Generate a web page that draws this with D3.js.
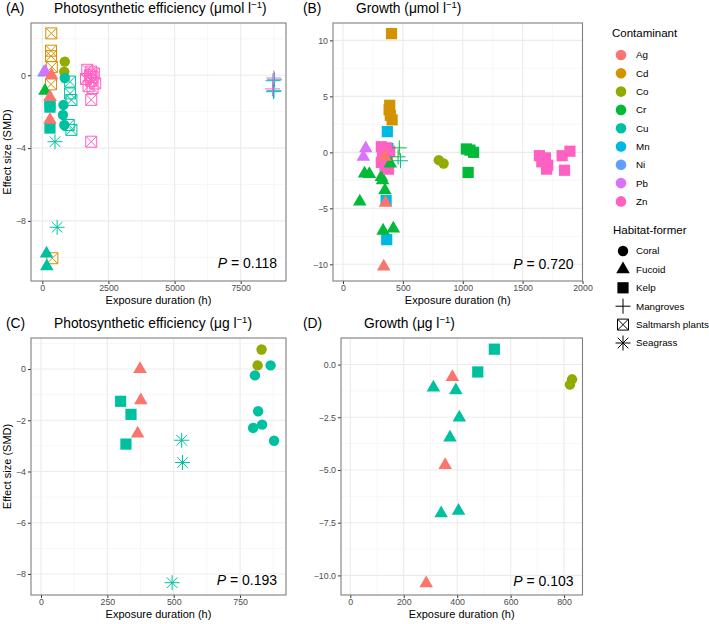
<!DOCTYPE html>
<html>
<head>
<meta charset="utf-8">
<script src="https://cdn.jsdelivr.net/npm/d3@7"></script>
<style>
  body { margin: 0; background: #fff; }
  text { font-family: "Liberation Sans", Arial, sans-serif; }
</style>
</head>
<body>
<div id="chart"></div>
<script>
// === effect size vs exposure duration, 4 panels ===

const contaminants = ["Ag", "Cd", "Co", "Cr", "Cu", "Mn", "Ni", "Pb", "Zn"];
const habitats = ["Coral", "Fucoid", "Kelp", "Mangroves", "Saltmarsh plants", "Seagrass"];

// [contaminant, habitat, exposure (h), effect size]
const photoMolar = [
  ["Cd", "Saltmarsh plants", 340, 2.3], ["Cd", "Saltmarsh plants", 330, 1.35], ["Cd", "Saltmarsh plants", 330, 1.05],
  ["Cd", "Saltmarsh plants", 360, 0.45], ["Cd", "Saltmarsh plants", 330, -0.5], ["Cd", "Saltmarsh plants", 380, -10.05],
  ["Ni", "Fucoid", 60, 0.15], ["Pb", "Fucoid", 110, 0.2],
  ["Cr", "Fucoid", 100, -0.85],
  ["Cu", "Kelp", 290, -1.6], ["Cu", "Kelp", 290, -1.75], ["Cu", "Kelp", 290, -2.9],
  ["Ag", "Fucoid", 350, 0.0], ["Ag", "Fucoid", 290, -1.2], ["Ag", "Fucoid", 290, -2.45],
  ["Cu", "Fucoid", 160, -9.8], ["Cu", "Fucoid", 170, -10.5],
  ["Co", "Coral", 850, 0.75], ["Co", "Coral", 830, 0.2],
  ["Cu", "Coral", 850, -0.15], ["Cu", "Coral", 800, -1.63], ["Cu", "Coral", 780, -2.18], ["Cu", "Coral", 830, -2.73],
  ["Cu", "Saltmarsh plants", 1050, -0.35], ["Cu", "Saltmarsh plants", 1050, -1.0], ["Cu", "Saltmarsh plants", 1100, -1.36],
  ["Cu", "Saltmarsh plants", 1000, -2.73], ["Cu", "Saltmarsh plants", 1100, -3.0],
  ["Zn", "Saltmarsh plants", 1700, 0.3], ["Zn", "Saltmarsh plants", 1850, 0.2], ["Zn", "Saltmarsh plants", 1950, 0.1],
  ["Zn", "Saltmarsh plants", 1800, 0.0], ["Zn", "Saltmarsh plants", 1900, -0.1], ["Zn", "Saltmarsh plants", 1650, -0.2],
  ["Zn", "Saltmarsh plants", 1850, -0.3], ["Zn", "Saltmarsh plants", 2000, -0.45], ["Zn", "Saltmarsh plants", 1750, -0.6],
  ["Zn", "Saltmarsh plants", 1900, -0.7], ["Zn", "Saltmarsh plants", 1850, -1.35], ["Zn", "Saltmarsh plants", 1850, -3.65],
  ["Cu", "Seagrass", 480, -3.65], ["Cu", "Seagrass", 560, -8.35],
  ["Cu", "Mangroves", 8720, -0.3], ["Mn", "Mangroves", 8780, -0.25], ["Zn", "Mangroves", 8750, -0.15],
  ["Cu", "Mangroves", 8740, -0.9], ["Mn", "Mangroves", 8760, -0.85], ["Zn", "Mangroves", 8700, -0.75]
];

const growthMolar = [
  ["Cd", "Kelp", 405, 10.6], ["Cd", "Kelp", 390, 4.2], ["Cd", "Kelp", 385, 3.8], ["Cd", "Kelp", 395, 3.3], ["Cd", "Kelp", 410, 2.9],
  ["Mn", "Kelp", 370, 1.85], ["Mn", "Kelp", 375, 0.35], ["Mn", "Kelp", 360, -4.3], ["Mn", "Kelp", 365, -7.8],
  ["Pb", "Fucoid", 190, 0.35], ["Pb", "Fucoid", 170, -0.4],
  ["Cr", "Fucoid", 180, -1.9], ["Cr", "Fucoid", 220, -1.95], ["Cr", "Fucoid", 140, -4.4],
  ["Cr", "Fucoid", 320, -2.2], ["Cr", "Fucoid", 330, -2.5], ["Cr", "Fucoid", 350, -3.4],
  ["Cr", "Fucoid", 335, -7.0], ["Cr", "Fucoid", 420, -6.8],
  ["Zn", "Kelp", 320, 0.5], ["Zn", "Kelp", 360, 0.4], ["Zn", "Kelp", 390, 0.1], ["Zn", "Kelp", 330, -0.2],
  ["Zn", "Kelp", 370, -0.5], ["Zn", "Kelp", 320, -0.9], ["Zn", "Kelp", 350, -1.2], ["Zn", "Kelp", 380, -1.5],
  ["Cr", "Fucoid", 395, -1.0],
  ["Ag", "Fucoid", 350, -0.4], ["Ag", "Fucoid", 355, -4.5], ["Ag", "Fucoid", 340, -10.2],
  ["Cr", "Mangroves", 470, 0.4], ["Cr", "Mangroves", 460, -0.4], ["Cu", "Mangroves", 480, -0.75],
  ["Co", "Coral", 800, -0.7], ["Co", "Coral", 840, -1.0],
  ["Cr", "Kelp", 1030, 0.3], ["Cr", "Kelp", 1060, 0.2], ["Cr", "Kelp", 1090, 0.0], ["Cr", "Kelp", 1045, -1.8],
  ["Zn", "Kelp", 1640, -0.3], ["Zn", "Kelp", 1690, -0.5], ["Zn", "Kelp", 1660, -0.85], ["Zn", "Kelp", 1710, -1.15],
  ["Zn", "Kelp", 1700, -1.5], ["Zn", "Kelp", 1830, -0.3], ["Zn", "Kelp", 1895, 0.1], ["Zn", "Kelp", 1850, -1.6]
];

const photoMass = [
  ["Co", "Coral", 831, 0.76], ["Co", "Coral", 816, 0.14],
  ["Cu", "Coral", 865, 0.14], ["Cu", "Coral", 806, -0.25], ["Cu", "Coral", 818, -1.65],
  ["Cu", "Coral", 799, -2.3], ["Cu", "Coral", 833, -2.17], ["Cu", "Coral", 878, -2.8],
  ["Ag", "Fucoid", 373, 0.0], ["Ag", "Fucoid", 376, -1.22], ["Ag", "Fucoid", 364, -2.52],
  ["Cu", "Kelp", 300, -1.26], ["Cu", "Kelp", 339, -1.77], ["Cu", "Kelp", 320, -2.93],
  ["Cu", "Seagrass", 530, -2.78], ["Cu", "Seagrass", 533, -3.65], ["Cu", "Seagrass", 494, -8.34]
];

const growthMass = [
  ["Cu", "Kelp", 539, 0.73], ["Cu", "Kelp", 477, -0.35],
  ["Ag", "Fucoid", 382, -0.59], ["Ag", "Fucoid", 355, -4.77], ["Ag", "Fucoid", 284, -10.38],
  ["Cu", "Fucoid", 311, -1.09], ["Cu", "Fucoid", 395, -1.22], ["Cu", "Fucoid", 408, -2.51],
  ["Cu", "Fucoid", 373, -3.46], ["Cu", "Fucoid", 340, -7.06], ["Cu", "Fucoid", 405, -6.94],
  ["Co", "Coral", 830, -0.7], ["Co", "Coral", 822, -0.95]
];

const xTicksA = [0, 2500, 5000, 7500], yTicksA = [0, -4, -8];
const xTicksB = [0, 500, 1000, 1500, 2000], yTicksB = [10, 5, 0, -5, -10];
const xTicksC = [0, 250, 500, 750], yTicksC = [0, -2, -4, -6, -8];
const xTicksD = [0, 200, 400, 600, 800], yTicksD = [0, -2.5, -5, -7.5, -10];
const pValues = ["0.118", "0.720", "0.193", "0.103"];

const svg = d3.select("#chart").append("svg")
  .attr("width", 709).attr("height", 624);

const color = d3.scaleOrdinal()
  .domain(contaminants)
  .range(["#F8766D", "#D39200", "#93AA00", "#00BA38", "#00C19F", "#00B9E3", "#619CFF", "#DB72FB", "#FF61C3"]);

// ggplot-like shapes 16, 17, 15, 3, 7, 8
function drawShape(sel, habitat, fill) {
  const s = 5.6;
  if (habitat === "Coral") {
    sel.append("circle").attr("r", 5.2).attr("fill", fill);
  } else if (habitat === "Fucoid") {
    sel.append("path").attr("d", d3.symbol(d3.symbolTriangle, 80)()).attr("fill", fill);
  } else if (habitat === "Kelp") {
    sel.append("rect").attr("x", -s).attr("y", -s).attr("width", 2 * s).attr("height", 2 * s).attr("fill", fill);
  } else if (habitat === "Mangroves") {
    const a = 7.5;
    sel.append("path").attr("d", `M${-a},0H${a}M0,${-a}V${a}`)
      .attr("stroke", fill).attr("stroke-width", 1).attr("fill", "none");
  } else if (habitat === "Saltmarsh plants") {
    const b = 5.5;
    sel.append("path").attr("d", `M${-b},${-b}H${b}V${b}H${-b}Z M${-b},${-b}L${b},${b}M${b},${-b}L${-b},${b}`)
      .attr("stroke", fill).attr("stroke-width", 1).attr("fill", "none");
  } else {
    const a = 7.5, d = 5.3;
    sel.append("path").attr("d", `M${-a},0H${a}M0,${-a}V${a}M${-d},${-d}L${d},${d}M${d},${-d}L${-d},${d}`)
      .attr("stroke", fill).attr("stroke-width", 1).attr("fill", "none");
  }
}

function minorOf(ticks, domain) {
  const step = Math.abs(ticks[1] - ticks[0]);
  const lo = d3.min(ticks), hi = d3.max(ticks);
  const out = [];
  for (let v = lo - step / 2; v <= hi + step / 2 + 1e-9; v += step) out.push(v);
  return out.filter(v => v > Math.min(...domain) && v < Math.max(...domain));
}

function addUnitTitle(g, x, y, main, unit) {
  const t = g.append("text").attr("x", x).attr("y", y).attr("font-size", 13.8).attr("fill", "#000");
  t.append("tspan").text(`${main} (${unit} l`);
  t.append("tspan").attr("dy", -5).attr("font-size", 9.5).text("\u22121");
  t.append("tspan").attr("dy", 5).text(")");
}

const panels = [
  { tag: "(A)", main: "Photosynthetic efficiency", unit: "\u03bcmol", data: photoMolar, xt: xTicksA, yt: yTicksA,
    left: 31, right: 286, top: 23, bottom: 281, xd: [-427, 9212], yd: [-11.3, 2.87], tagX: 6, pY: 268, yLab: true, fmt: d => d },
  { tag: "(B)", main: "Growth", unit: "\u03bcmol", data: growthMolar, xt: xTicksB, yt: yTicksB,
    left: 333, right: 582.5, top: 23, bottom: 281, xd: [-83.6, 2000], yd: [-11.49, 11.55], tagX: 303, pY: 269, yLab: false, fmt: d => d },
  { tag: "(C)", main: "Photosynthetic efficiency", unit: "\u03bcg", data: photoMass, xt: xTicksC, yt: yTicksC,
    left: 31, right: 286, top: 338, bottom: 595, xd: [-37.7, 923], yd: [-8.82, 1.21], tagX: 6, pY: 585, yLab: true, fmt: d => d },
  { tag: "(D)", main: "Growth", unit: "\u03bcg", data: growthMass, xt: xTicksD, yt: yTicksD,
    left: 341, right: 582.5, top: 338, bottom: 595, xd: [-34.8, 869], yd: [-10.93, 1.26], tagX: 303, pY: 585.5, yLab: false, fmt: d3.format(".1f") }
];

panels.forEach((p, i) => {
  const x = d3.scaleLinear().domain(p.xd).range([p.left, p.right]);
  const y = d3.scaleLinear().domain(p.yd).range([p.bottom, p.top]);
  const g = svg.append("g");

  // grid
  const grid = g.append("g");
  minorOf(p.xt, p.xd).forEach(v => grid.append("line")
    .attr("x1", x(v)).attr("x2", x(v)).attr("y1", p.top).attr("y2", p.bottom)
    .attr("stroke", "#f2f2f2").attr("stroke-width", 0.6));
  minorOf(p.yt, p.yd).forEach(v => grid.append("line")
    .attr("y1", y(v)).attr("y2", y(v)).attr("x1", p.left).attr("x2", p.right)
    .attr("stroke", "#f2f2f2").attr("stroke-width", 0.6));
  p.xt.filter(v => v < p.xd[1]).forEach(v => grid.append("line")
    .attr("x1", x(v)).attr("x2", x(v)).attr("y1", p.top).attr("y2", p.bottom)
    .attr("stroke", "#ebebeb").attr("stroke-width", 1.1));
  p.yt.forEach(v => grid.append("line")
    .attr("y1", y(v)).attr("y2", y(v)).attr("x1", p.left).attr("x2", p.right)
    .attr("stroke", "#ebebeb").attr("stroke-width", 1.1));

  // axes
  const xAxis = g.append("g").attr("transform", `translate(0,${p.bottom})`)
    .call(d3.axisBottom(x).tickValues(p.xt).tickSize(3).tickPadding(1).tickFormat(d => d));
  const yAxis = g.append("g").attr("transform", `translate(${p.left},0)`)
    .call(d3.axisLeft(y).tickValues(p.yt).tickSize(3).tickPadding(2).tickFormat(p.fmt));
  [xAxis, yAxis].forEach(a => {
    a.select(".domain").remove();
    a.selectAll(".tick line").attr("stroke", "#333");
    a.selectAll(".tick text").attr("fill", "#4d4d4d").attr("font-size", 8.8)
      .style("font-family", "'Liberation Sans', Arial, sans-serif")
      .text(function () { return this.textContent.replace("-", "\u2212"); });
  });

  // points
  const pts = g.append("g");
  p.data.forEach(([c, h, xv, yv]) => {
    const s = pts.append("g").attr("transform", `translate(${x(xv)},${y(yv)})`);
    drawShape(s, h, color(c));
  });

  // border
  g.append("rect").attr("x", p.left).attr("y", p.top)
    .attr("width", p.right - p.left).attr("height", p.bottom - p.top)
    .attr("fill", "none").attr("stroke", "#7f7f7f").attr("stroke-width", 1.1);

  // titles
  g.append("text").attr("x", p.tagX).attr("y", p.top - 10).attr("font-size", 13.8).text(p.tag);
  addUnitTitle(g, p.left + 23, p.top - 10, p.main, p.unit);

  g.append("text").attr("x", (p.left + p.right) / 2).attr("y", p.bottom + 23)
    .attr("text-anchor", "middle").attr("font-size", 11).text("Exposure duration (h)");
  if (p.yLab) {
    g.append("text").attr("transform", `translate(11,${(p.top + p.bottom) / 2}) rotate(-90)`)
      .attr("text-anchor", "middle").attr("font-size", 11).text("Effect size (SMD)");
  }

  const pt = g.append("text").attr("x", p.right - 9).attr("y", p.pY)
    .attr("text-anchor", "end").attr("font-size", 14);
  pt.append("tspan").attr("font-style", "italic").text("P");
  pt.append("tspan").text(` = ${pValues[i]}`);
});

// legends
const leg = svg.append("g");
leg.append("text").attr("x", 612).attr("y", 37).attr("font-size", 11.5).text("Contaminant");
contaminants.forEach((c, i) => {
  const cy = 55 + i * 18.3;
  leg.append("circle").attr("cx", 621).attr("cy", cy).attr("r", 5.3).attr("fill", color(c));
  leg.append("text").attr("x", 636).attr("y", cy).attr("dy", "0.35em").attr("font-size", 9.8).text(c);
});
leg.append("text").attr("x", 613).attr("y", 234).attr("font-size", 11.5).text("Habitat-former");
habitats.forEach((h, i) => {
  const cy = 251 + i * 18.4;
  const s = leg.append("g").attr("transform", `translate(623,${cy})`);
  drawShape(s, h, "#000");
  leg.append("text").attr("x", 636).attr("y", cy).attr("dy", "0.35em").attr("font-size", 9.8).text(h);
});
</script>
</body>
</html>
